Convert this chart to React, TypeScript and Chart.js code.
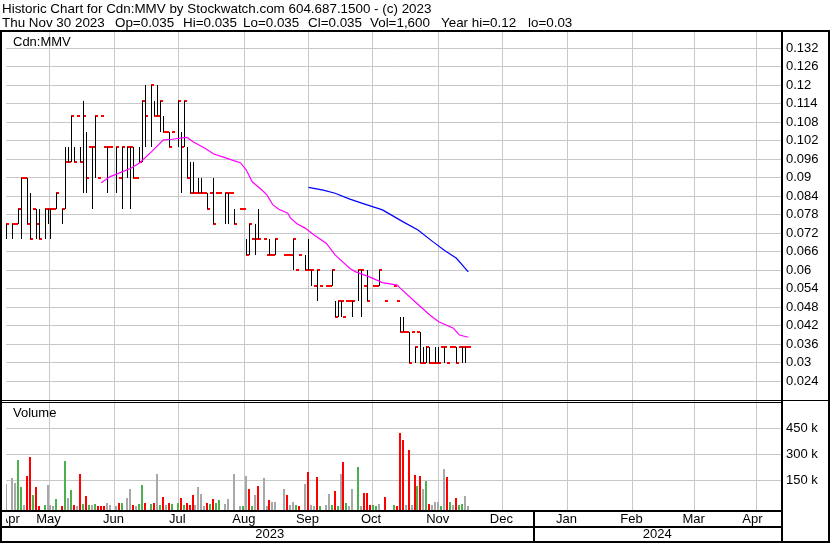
import React, { useEffect, useRef } from 'react';
import { Chart, registerables } from 'chart.js';

Chart.register(...registerables);

const FONT = '"Liberation Sans", Arial, Helvetica, sans-serif';

// ---------- header text ----------
const TITLE = 'Historic Chart for Cdn:MMV by Stockwatch.com 604.687.1500 - (c) 2023';
const INFO_TEXT = ['Thu Nov 30 2023', 'Op=0.035', 'Hi=0.035', 'Lo=0.035', 'Cl=0.035', 'Vol=1,600', 'Year hi=0.12', 'lo=0.03'];
const INFO_LEFT = [2, 115, 183, 243, 308, 370, 441, 528];
const SYMBOL = 'Cdn:MMV';
const VOLUME_LABEL = 'Volume';

// ---------- daily data: index = weekday number counted from Mon Apr 24 2023 ----------
const HIGH = [
  null, null, .075, null, .075, .075, .08, .09, .09, .09,
  .085, .08, .08, .08, null, .08, .08, .08, .08, .085,
  null, .08, .10, .10, .11, .10, .11, .10, .115, .105,
  .10, .10, .11, .09, .11, .10, .10, .10, null, .10,
  .09, .10, null, .10, .10, .10, .09, .10, .115, .12,
  null, .12, .115, .12, .115, .11, .105, .105, .105, null,
  .115, .105, .115, .10, .095, .095, .085, .09, .09, .085,
  .085, .085, .09, .085, .085, null, .085, .085, .085, .08,
  null, .08, .08, .07, .075, .07, .075, .08, null, .07,
  .065, .07, .065, .07, null, null, .065, .065, .065, .07,
  .06, .065, null, .065, .07, .06, .055, .06, .055, null,
  .055, .055, .06, .05, .05, .05, .045, .05, .05, .05,
  null, .06, .06, .055, .06, null, .055, .055, .06, null,
  .05, null, null, .055, .05, .045, .045, .04, .04, .04,
  .035, .04, .04, .035, .035, .035, .03, .035, .035, .035,
  .035, .03, .035, .035, .035, .035, .035, .035, .035,
];
const LOW = [
  null, null, .07, null, .07, .075, .075, .07, .09, .075,
  .07, .08, .07, .07, null, .07, .075, .07, .08, .08,
  null, .075, .08, .095, .095, .095, .11, .095, .085, .085,
  .10, .08, .09, .09, .11, .10, .085, .10, null, .085,
  .09, .08, null, .09, .08, .09, .09, .095, .095, .10,
  null, .10, .11, .11, .105, .105, .105, .10, .105, null,
  .10, .085, .10, .09, .085, .085, .085, .085, .085, .085,
  .08, .085, .075, .085, .085, null, .075, .075, .085, .075,
  null, .08, .08, .065, .065, .07, .065, .07, null, .07,
  .065, .065, .065, .065, null, null, .065, .065, .065, .06,
  .06, .065, null, .06, .06, .055, .055, .05, .055, null,
  .055, .055, .055, .045, .045, .045, .045, .05, .05, .045,
  null, .05, .045, .055, .05, null, .055, .055, .055, null,
  .05, null, null, .055, .05, .04, .04, .04, .03, .04,
  .03, .04, .03, .03, .03, .03, .03, .03, .03, .035,
  .03, .03, .035, .035, .03, .035, .03, .03, .035,
];
const CLOSE = [
  null, null, .075, null, .075, .075, .08, .09, .09, .075,
  .07, .08, .075, .07, null, .08, .08, .08, .08, .085,
  null, .08, .095, .095, .11, .095, .11, .095, .11, .09,
  .10, .10, .11, .09, .11, .10, .10, .10, null, .10,
  .09, .10, null, .10, .10, .09, .09, .095, .115, .11,
  null, .12, .11, .11, .115, .105, .105, .10, .105, null,
  .115, .10, .115, .09, .085, .085, .085, .085, .085, .085,
  .08, .085, .075, .085, .085, null, .085, .085, .085, .075,
  null, .08, .08, .065, .075, .07, .07, .07, null, .07,
  .065, .065, .065, .07, null, null, .065, .065, .065, .07,
  .06, .065, null, .06, .06, .06, .055, .06, .055, null,
  .055, .055, .06, .045, .05, .05, .045, .05, .05, .05,
  null, .06, .06, .055, .05, null, .055, .055, .06, null,
  .05, null, null, .055, .05, .04, .04, .04, .03, .04,
  .035, .04, .03, .03, .035, .03, .03, .03, .03, .035,
  .035, .03, .035, .035, .03, .035, .035, .035, .035,
];
// volume in thousands of shares
const VOLUME = [
  0, 0, 128, 0, 163, 134, 267, 111, 6, 174,
  284, 64, 111, 2, 0, 5, 122, 5, 3, 41,
  0, 3, 261, 46, 93, 5, 3, 186, 12, 58,
  8, 8, 10, 3, 3, 3, 17, 8, 0, 3,
  17, 20, 0, 46, 99, 8, 3, 12, 122, 17,
  0, 12, 20, 186, 8, 52, 8, 20, 12, 0,
  20, 46, 5, 20, 8, 64, 5, 111, 70, 3,
  17, 12, 41, 17, 35, 0, 12, 41, 0, 186,
  0, 3, 3, 174, 99, 3, 64, 116, 0, 163,
  3, 35, 23, 23, 0, 0, 99, 64, 5, 23,
  5, 3, 0, 128, 197, 5, 2, 168, 3, 0,
  8, 70, 8, 87, 3, 186, 255, 17, 3, 99,
  0, 226, 3, 75, 75, 5, 8, 3, 12, 0,
  52, 0, 0, 8, 3, 425, 384, 8, 325, 8,
  180, 118, 174, 99, 145, 12, 5, 23, 23, 3,
  214, 168, 23, 5, 46, 8, 12, 58, 2,
];
// u = close up, d = close down, n = unchanged, - = no trade
const VOL_DIR = (
  '--n-nnuund' + 'dudd-unnnu' + '-dunudndud' + 'unudddnn-n' + 'du-nndnuud' +
  '-udnudndu-' + 'ududddnnnn' + 'duduun-nn-' + 'd-undundnn' + '-dnnu--dnn' +
  'udu-dnndud' + 'nnudundunn' + '-unddduun-' + 'd--udddnd-' + 'dudnudnnnu' + 'ndunduunn'
).split('');

// moving averages (weekday index, price)
const MA_SHORT_X = [34, 37, 40, 44, 47, 51, 55, 58, 62, 63, 65, 69, 72, 75, 79, 81, 83, 85, 88, 90, 92, 94, 97, 98, 100, 103, 106, 110, 113, 118, 120, 125, 129, 134, 135, 140, 145, 148, 153, 155, 158];
const MA_SHORT_Y = [.0884, .0904, .0915, .0931, .0949, .0985, .1023, .1025, .1030, .1031, .1017, .0996, .0977, .0968, .0955, .0949, .0925, .0887, .0863, .0844, .0812, .0798, .0785, .0769, .0752, .0736, .0714, .0688, .0650, .0606, .0595, .0577, .0560, .0552, .0542, .0498, .0455, .0433, .0412, .0390, .0383];
const MA_LONG_X = [104, 109, 113, 118, 122, 129, 136, 141, 146, 150, 154, 158];
const MA_LONG_Y = [.0869, .0860, .0850, .0831, .0818, .0796, .0757, .0731, .0693, .0664, .0639, .0595];

// ---------- axes ----------
const PRICE_TICKS = [0.132, 0.126, 0.12, 0.114, 0.108, 0.102, 0.096, 0.09, 0.084, 0.078, 0.072, 0.066, 0.06, 0.054, 0.048, 0.042, 0.036, 0.03, 0.024];
const VOL_TICKS = [150, 300, 450];
const MONTH_LABELS = ['Apr', 'May', 'Jun', 'Jul', 'Aug', 'Sep', 'Oct', 'Nov', 'Dec', 'Jan', 'Feb', 'Mar', 'Apr'];
// weekday index of each month's first day (weekend -> previous Friday)
const MONTH_BOUNDS = [5, 28, 49, 71, 94, 114, 137, 159, 180, 203, 224, 245];
const YEAR_LABELS = ['2023', '2024'];
const YEAR_BOUND = 180;

const PX_PER_DAY = 2.975;
const X_MIN = 1.8067;
const X_MAX = X_MIN + 779 / PX_PER_DAY;
const P_MIN = 0.017935;
const P_MAX = 0.137287;
const V_MIN = -22.3;
const V_MAX = 613.6;

const GRID = '#C8C8C8';
const UP = '#4CB04C';
const DOWN = '#FF0000';
const FLAT = '#A8A8A8';

// snap library-computed element positions onto whole pixels (crisp 1-2 px marks)
const snapPlugin = {
  id: 'snap',
  afterDatasetsUpdate(chart: any) {
    chart.data.datasets.forEach((ds: any, i: number) => {
      const meta = chart.getDatasetMeta(i);
      const kind = ds.snap;
      if (!kind) return;
      meta.data.forEach((el: any) => {
        if (kind === 'range') {
          el.x = Math.floor(el.x) + 0.5;
          el.y = Math.round(el.y);
          el.base = Math.round(el.base);
        } else if (kind === 'tick') {
          el.x = Math.floor(el.x) + 1.5;
          el.y = Math.round(el.y);
        } else if (kind === 'vol') {
          el.x = Math.floor(el.x);
          el.y = Math.round(el.y);
          el.base = Math.round(el.base);
        }
      });
    });
  },
};

const framePlugin = {
  id: 'frame',
  afterDraw(chart: any) {
    const { ctx, chartArea: ca, scales } = chart;
    const py = scales.y;
    const vy = scales.yv;
    const xs = scales.x;
    const W = chart.width;
    const H = chart.height;
    const monthRowBottom = ca.bottom + 16;
    ctx.save();
    ctx.fillStyle = '#000';
    ctx.fillRect(0, ca.top - 2, W, 2);
    ctx.fillRect(0, ca.top - 2, 2, H - ca.top + 2);
    ctx.fillRect(ca.right, ca.top - 2, 2, H - ca.top + 2);
    ctx.fillRect(W - 2, ca.top - 2, 2, H - ca.top + 2);
    ctx.fillRect(0, py.bottom, W, 1);
    ctx.fillRect(0, py.bottom + 2, ca.right, 1);
    ctx.fillRect(0, ca.bottom, ca.right, 2);
    ctx.fillRect(0, monthRowBottom, ca.right, 2);
    ctx.fillRect(0, H - 2, W, 2);
    const yb = Math.round(xs.getPixelForValue(YEAR_BOUND) - 0.5);
    ctx.fillRect(yb, ca.bottom, 2, H - ca.bottom);

    ctx.font = `13px ${FONT}`;
    ctx.textBaseline = 'middle';
    ctx.textAlign = 'left';
    ctx.fillText(SYMBOL, ca.left + 7, py.top + 10);
    ctx.fillText(VOLUME_LABEL, ca.left + 7, vy.top + 13);

    ctx.save();
    ctx.beginPath();
    ctx.rect(ca.left, ca.bottom, ca.right - ca.left, H - ca.bottom);
    ctx.clip();
    ctx.textAlign = 'center';
    const edges = [ca.left, ...MONTH_BOUNDS.map((v) => xs.getPixelForValue(v)), ca.right];
    MONTH_LABELS.forEach((m, i) => {
      ctx.fillText(m, (edges[i] + edges[i + 1]) / 2 - 1, ca.bottom + 9);
    });
    const yEdges = [ca.left, xs.getPixelForValue(YEAR_BOUND), ca.right];
    YEAR_LABELS.forEach((t, i) => {
      ctx.fillText(t, (yEdges[i] + yEdges[i + 1]) / 2, monthRowBottom + 8);
    });
    ctx.restore();
    ctx.restore();
  },
};

export default function App() {
  const ref = useRef<HTMLCanvasElement>(null);

  useEffect(() => {
    const canvas = ref.current;
    if (!canvas) return;

    const rangeData: any[] = [];
    const closeData: any[] = [];
    HIGH.forEach((h, i) => {
      if (h == null) return;
      rangeData.push({ x: i, y: [LOW[i], h] });
      closeData.push({ x: i, y: CLOSE[i] });
    });
    const volData: any[] = [];
    const volColors: string[] = [];
    VOLUME.forEach((v, i) => {
      if (!v) return;
      volData.push({ x: i, y: v });
      const d = VOL_DIR[i];
      volColors.push(d === 'u' ? UP : d === 'd' ? DOWN : FLAT);
    });

    const tickFont = { family: FONT, size: 13 };

    const chart = new Chart(canvas, {
      type: 'bar',
      data: {
        datasets: [
          {
            type: 'line',
            label: 'MA short',
            data: MA_SHORT_X.map((x, i) => ({ x, y: MA_SHORT_Y[i] })),
            borderColor: '#FF00FF',
            borderWidth: 1.2,
            pointRadius: 0,
            tension: 0,
            yAxisID: 'y',
            order: 0,
          } as any,
          {
            type: 'line',
            label: 'MA long',
            data: MA_LONG_X.map((x, i) => ({ x, y: MA_LONG_Y[i] })),
            borderColor: '#0000FF',
            borderWidth: 1.2,
            pointRadius: 0,
            tension: 0,
            yAxisID: 'y',
            order: 0,
          } as any,
          {
            type: 'bar',
            label: 'High-Low',
            snap: 'range',
            data: rangeData,
            backgroundColor: '#000000',
            borderWidth: 0,
            barThickness: 1,
            grouped: false,
            inflateAmount: 0,
            yAxisID: 'y',
            order: 1,
          } as any,
          {
            type: 'scatter',
            label: 'Close',
            snap: 'tick',
            data: closeData,
            pointStyle: 'line',
            pointRadius: 1.5,
            pointBorderWidth: 2,
            pointBorderColor: DOWN,
            borderColor: DOWN,
            showLine: false,
            yAxisID: 'y',
            order: 2,
          } as any,
          {
            type: 'bar',
            label: 'Volume',
            snap: 'vol',
            data: volData,
            backgroundColor: volColors,
            borderWidth: 0,
            barThickness: 2,
            grouped: false,
            inflateAmount: 0,
            base: V_MIN,
            yAxisID: 'yv',
            order: 3,
          } as any,
        ],
      },
      options: {
        animation: false,
        responsive: false,
        maintainAspectRatio: false,
        devicePixelRatio: 1,
        events: [],
        layout: { padding: { top: 32, left: 2, right: 0, bottom: 0 } },
        plugins: { legend: { display: false }, tooltip: { enabled: false }, title: { display: false } },
        scales: {
          x: {
            type: 'linear',
            position: 'bottom',
            min: X_MIN,
            max: X_MAX,
            offset: false,
            afterBuildTicks: (s: any) => {
              s.ticks = MONTH_BOUNDS.map((v) => ({ value: v }));
            },
            afterFit: (s: any) => {
              s.height = 33;
            },
            grid: { color: GRID, lineWidth: 1, drawTicks: false },
            border: { display: false },
            ticks: { display: false },
          },
          y: {
            type: 'linear',
            position: 'right',
            stack: 'panels',
            stackWeight: 368,
            min: P_MIN,
            max: P_MAX,
            afterBuildTicks: (s: any) => {
              s.ticks = PRICE_TICKS.map((v) => ({ value: v }));
            },
            afterFit: (s: any) => {
              s.width = 49;
            },
            grid: { color: GRID, lineWidth: 1, drawTicks: false },
            border: { display: false },
            ticks: {
              autoSkip: false,
              padding: 5,
              color: '#000',
              font: tickFont,
              callback: (v: any) => String(v),
            },
          },
          yv: {
            type: 'linear',
            position: 'right',
            stack: 'panels',
            stackWeight: 110,
            min: V_MIN,
            max: V_MAX,
            afterBuildTicks: (s: any) => {
              s.ticks = VOL_TICKS.map((v) => ({ value: v }));
            },
            afterFit: (s: any) => {
              s.width = 49;
            },
            grid: { color: GRID, lineWidth: 1, drawTicks: false },
            border: { display: false },
            ticks: {
              autoSkip: false,
              padding: 5,
              color: '#000',
              font: tickFont,
              callback: (v: any) => `${v} k`,
            },
          },
        },
      } as any,
      plugins: [snapPlugin, framePlugin],
    });

    return () => chart.destroy();
  }, []);

  return (
    <div style={{ position: 'absolute', left: 0, top: 0, width: 830, height: 543, background: '#fff', fontFamily: FONT, fontSize: 13.4, color: '#000' }}>
      <canvas ref={ref} width={830} height={543} style={{ position: 'absolute', left: 0, top: 0, width: 830, height: 543 }} />
      <div style={{ position: 'absolute', left: 2, top: 0.5, lineHeight: '15px', whiteSpace: 'pre' }}>{TITLE}</div>
      {INFO_TEXT.map((t, i) => (
        <div key={i} style={{ position: 'absolute', left: INFO_LEFT[i], top: 14.5, lineHeight: '15px', whiteSpace: 'pre' }}>{t}</div>
      ))}
    </div>
  );
}
